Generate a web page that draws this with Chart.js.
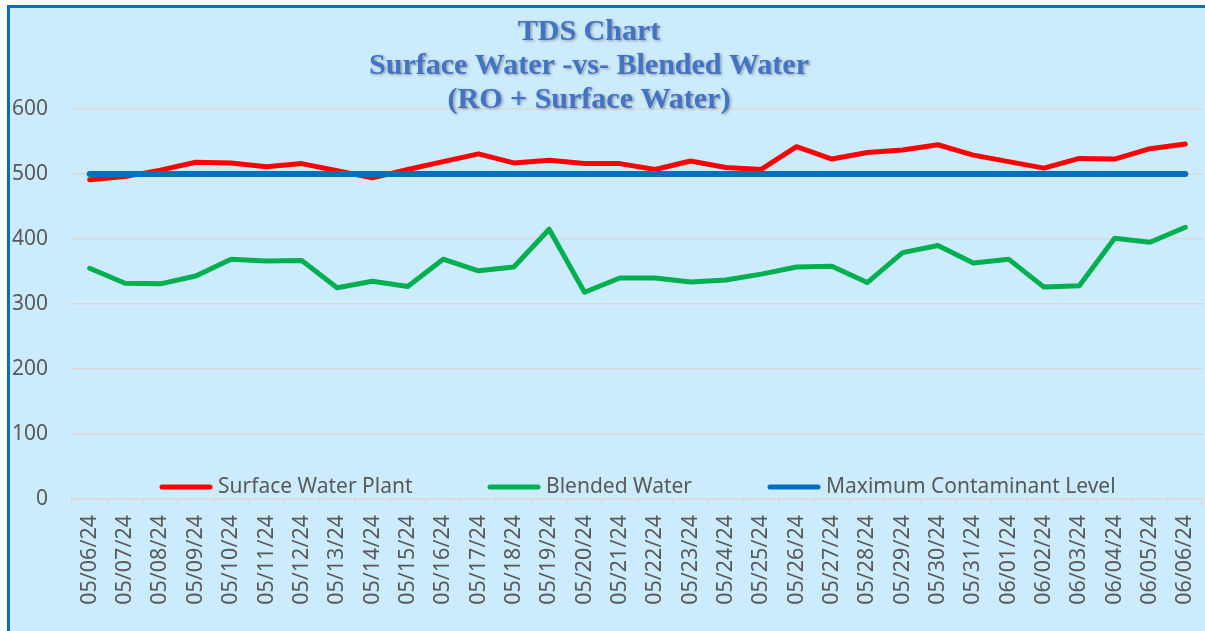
<!DOCTYPE html>
<html>
<head>
<meta charset="utf-8">
<script src="https://cdn.jsdelivr.net/npm/chart.js@4.4.1/dist/chart.umd.min.js"></script>
<style>
  body { margin: 0; background: #fff; overflow: hidden; }
  #frame {
    position: absolute; left: 7px; top: 5px; width: 1198px; height: 626px;
    border-left: 3px solid #0070C0; border-top: 3px solid #0070C0;
    background: #CCECFD;
  }
  #wrap { position: absolute; left: 0; top: 0; width: 1195px; height: 623px; }
</style>
</head>
<body>
<div id="frame"><div id="wrap"><canvas id="myChart"></canvas></div></div>
<script>
var dates = ["05/06/24", "05/07/24", "05/08/24", "05/09/24", "05/10/24", "05/11/24", "05/12/24", "05/13/24",
  "05/14/24", "05/15/24", "05/16/24", "05/17/24", "05/18/24", "05/19/24", "05/20/24", "05/21/24",
  "05/22/24", "05/23/24", "05/24/24", "05/25/24", "05/26/24", "05/27/24", "05/28/24", "05/29/24",
  "05/30/24", "05/31/24", "06/01/24", "06/02/24", "06/03/24", "06/04/24", "06/05/24", "06/06/24"];

var surfaceWater = [491, 496, 506, 518, 517, 511, 516, 505, 494, 507, 519, 531, 517, 521, 516, 516,
  507, 520, 510, 507, 542, 523, 533, 537, 545, 529, 519, 509, 524, 523, 539, 546];

var blendedWater = [355, 332, 331, 343, 369, 366, 367, 325, 335, 327, 369, 351, 357, 415, 318, 340,
  340, 334, 337, 346, 357, 358, 333, 379, 390, 363, 369, 326, 328, 401, 395, 418];

var mcl = [500, 500, 500, 500, 500, 500, 500, 500, 500, 500, 500, 500, 500, 500, 500, 500,
  500, 500, 500, 500, 500, 500, 500, 500, 500, 500, 500, 500, 500, 500, 500, 500];

var yTicks = [0, 100, 200, 300, 400, 500, 600];

var titleLines = ["TDS Chart", "Surface Water -vs- Blended Water", "(RO + Surface Water)"];

var textColor = '#595959';
var gridColor = '#D9D9D9';
var fontFamily = "'Noto Sans', 'Open Sans', sans-serif";

// title drawn over the canvas, centred like the original
var titlePlugin = {
  id: 'tdsTitle',
  afterDraw: function (chart) {
    var ctx = chart.ctx;
    ctx.save();
    ctx.font = "bold 30px 'Liberation Serif', 'Times New Roman', serif";
    ctx.fillStyle = '#4472C4';
    ctx.textAlign = 'center';
    ctx.textBaseline = 'middle';
    ctx.shadowColor = 'rgba(0,0,0,0.35)';
    ctx.shadowBlur = 3;
    ctx.shadowOffsetX = 1.5;
    ctx.shadowOffsetY = 1.5;
    titleLines.forEach(function (line, i) {
      ctx.fillText(line, 579, 24 + i * 34);
    });
    ctx.restore();
  }
};

// legend sits inside the plot, just above the x axis
var legendPlugin = {
  id: 'insideLegend',
  afterDraw: function (chart) {
    var ctx = chart.ctx;
    var y = chart.chartArea.bottom - 12;
    var starts = [150, 478, 758];
    ctx.save();
    ctx.font = '21px ' + fontFamily;
    ctx.textBaseline = 'middle';
    chart.data.datasets.forEach(function (ds, i) {
      var x = starts[i];
      ctx.strokeStyle = ds.borderColor;
      ctx.lineWidth = 5;
      ctx.lineCap = 'round';
      ctx.beginPath();
      ctx.moveTo(x + 2, y);
      ctx.lineTo(x + 50, y);
      ctx.stroke();
      ctx.fillStyle = textColor;
      ctx.fillText(ds.label, x + 58, y);
    });
    ctx.restore();
  }
};

var ctx = document.getElementById('myChart').getContext('2d');

var myChart = new Chart(ctx, {
  type: 'line',
  data: {
    labels: dates,
    datasets: [{
      label: 'Surface Water Plant',
      data: surfaceWater,
      borderColor: '#FF0000',
      backgroundColor: '#FF0000',
      borderWidth: 5,
      order: 2
    }, {
      label: 'Blended Water',
      data: blendedWater,
      borderColor: '#00B050',
      backgroundColor: '#00B050',
      borderWidth: 5,
      order: 1
    }, {
      label: 'Maximum Contaminant Level',
      data: mcl,
      borderColor: '#0070C0',
      backgroundColor: '#0070C0',
      borderWidth: 6,
      order: 0
    }]
  },
  options: {
    responsive: true,
    maintainAspectRatio: false,
    animation: false,
    layout: { padding: { top: 101, right: 2, left: 0, bottom: 0 } },
    elements: {
      point: { radius: 0, hoverRadius: 0 },
      line: { tension: 0, borderCapStyle: 'round', borderJoinStyle: 'round' }
    },
    plugins: {
      legend: { display: false },
      title: { display: false },
      tooltip: { enabled: false }
    },
    scales: {
      x: {
        offset: true,
        grid: { offset: true, drawOnChartArea: false, drawTicks: true, tickLength: 7, color: gridColor, lineWidth: 1.5 },
        border: { color: gridColor, width: 1.5 },
        ticks: {
          autoSkip: false, minRotation: 90, maxRotation: 90, padding: 9,
          color: textColor, font: { size: 21.5, family: fontFamily }
        },
        afterFit: function (scale) {
          scale.height = 132;
          scale.paddingLeft = 0;
          scale.paddingRight = 0;
        }
      },
      y: {
        min: 0,
        max: 600,
        afterBuildTicks: function (scale) {
          scale.ticks = yTicks.map(function (v) { return { value: v }; });
        },
        grid: { color: gridColor, lineWidth: 1.5, drawTicks: false },
        border: { display: false },
        ticks: { padding: 24, color: textColor, font: { size: 21, family: fontFamily } },
        afterFit: function (scale) { scale.width = 62; }
      }
    }
  },
  plugins: [titlePlugin, legendPlugin]
});
</script>
</body>
</html>
